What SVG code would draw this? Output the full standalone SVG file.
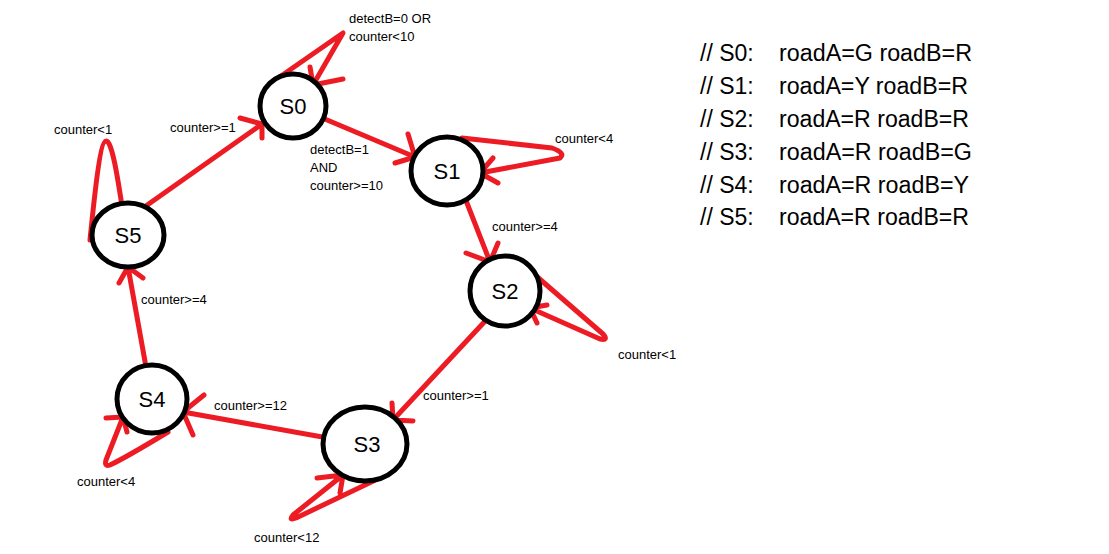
<svg xmlns="http://www.w3.org/2000/svg" width="1109" height="554" viewBox="0 0 1109 554">
<style>
.node ellipse{fill:#fff;stroke:#000;stroke-width:5}
.node text{font-family:"Liberation Sans",Arial,sans-serif;font-size:22px;fill:#000;text-anchor:middle}
.e{fill:none;stroke:#ed1c24;stroke-width:5;stroke-linecap:round;stroke-linejoin:round}
.lbl{font-family:"Liberation Sans",Arial,sans-serif;font-size:13px;fill:#000}
.legend{font-family:"Liberation Sans",Arial,sans-serif;font-size:23px;fill:#000}
</style>
<rect width="1109" height="554" fill="#fff"/>
<g id="connectors">
<path class="e" d="M271,83 L343,33 L313,85 M310,67 L313,85 L343,79"/>
<path class="e" d="M320,117 L415,157 M408,134 L415,157 L395,163"/>
<path class="e" d="M462,138 L552,148 Q566,153 560,158 L480,173 M493,158 L480,173 L498,183"/>
<path class="e" d="M465,198 L490,262 M498,243 L490,262 L466,253"/>
<path class="e" d="M535,275 L603,334 Q609,341 600,339 L530,308 M547,305 L530,308 L537,323"/>
<path class="e" d="M488,318 L393,420 M392,403 L393,420 L413,421"/>
<path class="e" d="M328,438 L183,412 M204,395 L183,412 L193,435"/>
<path class="e" d="M388,474 L296,518 Q288,521 293,515 L343,475 M317,478 L343,475 L340,493"/>
<path class="e" d="M168,432 Q125,458 110,465 Q104,467 106,460 L123,417 M106,418 L123,417 L127,432"/>
<path class="e" d="M146,367 L128,267 M119,283 L128,267 L143,278"/>
<path class="e" d="M122,206 C118,180 112,140 106,141 C100,141 94,200 90,240"/>
<path class="e" d="M143,208 L262,124 M240,118 L262,124 L262,138"/>
</g>
<g id="S0" class="node"><ellipse cx="293" cy="106" rx="33" ry="32"/><text x="293" y="114">S0</text></g>
<g id="S1" class="node"><ellipse cx="447" cy="171" rx="36" ry="34"/><text x="447" y="179">S1</text></g>
<g id="S2" class="node"><ellipse cx="505" cy="291" rx="35" ry="35"/><text x="505" y="299">S2</text></g>
<g id="S3" class="node"><ellipse cx="365" cy="444" rx="42" ry="37"/><text x="367" y="452">S3</text></g>
<g id="S4" class="node"><ellipse cx="152" cy="399" rx="35" ry="34"/><text x="152" y="407">S4</text></g>
<g id="S5" class="node"><ellipse cx="128" cy="235" rx="36" ry="32"/><text x="128" y="243">S5</text></g>
<g id="labels">
<text class="lbl" x="349" y="23">detectB=0 OR</text>
<text class="lbl" x="349" y="41">counter&lt;10</text>
<text class="lbl" x="310" y="154">detectB=1</text>
<text class="lbl" x="310" y="172">AND</text>
<text class="lbl" x="310" y="190">counter&gt;=10</text>
<text class="lbl" x="555" y="143">counter&lt;4</text>
<text class="lbl" x="492" y="231">counter&gt;=4</text>
<text class="lbl" x="618" y="359">counter&lt;1</text>
<text class="lbl" x="423" y="400">counter&gt;=1</text>
<text class="lbl" x="214" y="410">counter&gt;=12</text>
<text class="lbl" x="77" y="486">counter&lt;4</text>
<text class="lbl" x="254" y="542">counter&lt;12</text>
<text class="lbl" x="141" y="304">counter&gt;=4</text>
<text class="lbl" x="54" y="134">counter&lt;1</text>
<text class="lbl" x="170" y="132">counter&gt;=1</text>
</g>
<g id="legend" class="legend">
<text x="700" y="61">// S0:</text><text x="779" y="61" textLength="193" lengthAdjust="spacingAndGlyphs">roadA=G roadB=R</text>
<text x="700" y="94">// S1:</text><text x="779" y="94" textLength="189" lengthAdjust="spacingAndGlyphs">roadA=Y roadB=R</text>
<text x="700" y="127">// S2:</text><text x="779" y="127" textLength="190" lengthAdjust="spacingAndGlyphs">roadA=R roadB=R</text>
<text x="700" y="160">// S3:</text><text x="779" y="160" textLength="193" lengthAdjust="spacingAndGlyphs">roadA=R roadB=G</text>
<text x="700" y="193">// S4:</text><text x="779" y="193" textLength="190" lengthAdjust="spacingAndGlyphs">roadA=R roadB=Y</text>
<text x="700" y="225">// S5:</text><text x="779" y="225" textLength="190" lengthAdjust="spacingAndGlyphs">roadA=R roadB=R</text>
</g>
</svg>
